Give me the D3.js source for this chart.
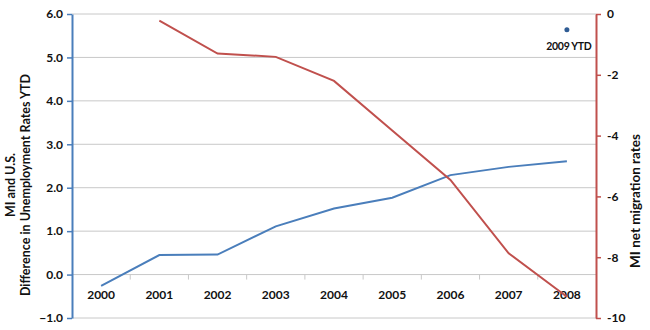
<!DOCTYPE html>
<html><head><meta charset="utf-8">
<script src="https://cdn.jsdelivr.net/npm/d3@7"></script>
<style>body{margin:0;background:#fff}svg{display:block}</style>
</head><body>
<svg id="c" width="650" height="330"></svg>
<script>
const years = ["2000","2001","2002","2003","2004","2005","2006","2007","2008"];
const unempDiff = [-0.26, 0.45, 0.46, 1.11, 1.52, 1.77, 2.29, 2.48, 2.61];
const migrationYears = ["2001","2002","2003","2004","2005","2006","2007","2008"];
const migration = [-0.22, -1.30, -1.41, -2.20, -3.83, -5.46, -7.87, -9.30];
const ytdYear = "2008";
const ytdValue = 5.64;
const ytdLabel = "2009 YTD";
const leftTicks = [6,5,4,3,2,1,0,-1];
const rightTicks = [0,-2,-4,-6,-8,-10];

const svg = d3.select("#c");
const L = 72, R = 596, T = 14, B = 318;
const font = "Lato, 'Open Sans', sans-serif";
const blue = "#4a7ebb", red = "#c0504d", grid = "#c8c8c8";

const x = d3.scaleBand().domain(years).range([L, R]);
const yL = d3.scaleLinear().domain([-1, 6]).range([B, T]);
const yR = d3.scaleLinear().domain([-10, 0]).range([B, T]);
const cx = d => x(d) + x.bandwidth() / 2;

// gridlines
svg.append("g").selectAll("line").data(leftTicks).join("line")
  .attr("x1", L).attr("x2", R).attr("y1", d => yL(d)).attr("y2", d => yL(d))
  .attr("stroke", grid).attr("stroke-width", 1);

// category axis at 0
const xa = svg.append("g").attr("transform", `translate(0,${yL(0)})`)
  .call(d3.axisBottom(x).tickSize(0).tickPadding(16));
xa.select(".domain").remove();
xa.selectAll("text").attr("font-family", font).attr("font-weight", "bold")
  .attr("font-size", 12).attr("fill", "#111");
svg.append("g").selectAll("line").data(years.slice(1)).join("line")
  .attr("x1", d => x(d)).attr("x2", d => x(d))
  .attr("y1", yL(0)).attr("y2", yL(0) + 5).attr("stroke", grid);

// left axis
const la = svg.append("g").attr("transform", `translate(${L},0)`)
  .call(d3.axisLeft(yL).tickValues(leftTicks).tickFormat(d3.format(".1f")).tickSize(5).tickPadding(4).tickSizeOuter(0));
la.select(".domain").attr("stroke", blue).attr("stroke-width", 2);
la.selectAll(".tick line").attr("stroke", blue).attr("stroke-width", 1.5);
la.selectAll("text").attr("font-family", font).attr("font-weight", "bold")
  .attr("font-size", 12).attr("fill", "#111");

// right axis
const ra = svg.append("g").attr("transform", `translate(${R},0)`)
  .call(d3.axisRight(yR).tickValues(rightTicks).tickSize(5).tickPadding(6).tickSizeOuter(0));
ra.select(".domain").attr("stroke", red).attr("stroke-width", 2);
ra.selectAll(".tick line").attr("stroke", red).attr("stroke-width", 1.5);
ra.selectAll("text").attr("font-family", font).attr("font-weight", "bold")
  .attr("font-size", 12).attr("fill", "#111").text(d => d === 0 ? "0" : "-" + Math.abs(d));

// lines
svg.append("path").datum(years.map((y, i) => [y, unempDiff[i]]))
  .attr("fill", "none").attr("stroke", blue).attr("stroke-width", 2)
  .attr("d", d3.line().x(d => cx(d[0])).y(d => yL(d[1])));
svg.append("path").datum(migrationYears.map((y, i) => [y, migration[i]]))
  .attr("fill", "none").attr("stroke", red).attr("stroke-width", 2)
  .attr("d", d3.line().x(d => cx(d[0])).y(d => yR(d[1])));

// YTD point
svg.append("circle").attr("cx", cx(ytdYear)).attr("cy", yL(ytdValue)).attr("r", 2.5).attr("fill", "#2f5c94");
svg.append("text").attr("x", cx(ytdYear) + 2).attr("y", yL(ytdValue) + 20)
  .attr("text-anchor", "middle").attr("font-family", font).attr("font-weight", "bold")
  .attr("font-size", 10.5).attr("letter-spacing", -0.3).attr("fill", "#111").text(ytdLabel);

// axis titles
const lt = svg.append("text").attr("transform", "translate(15,185) rotate(-90)")
  .attr("text-anchor", "middle").attr("font-family", font).attr("font-weight", "bold")
  .attr("font-size", 12.5).attr("fill", "#111");
lt.append("tspan").attr("x", 0).attr("dy", 0).text("MI and U.S.");
lt.append("tspan").attr("x", 0).attr("dy", 15).text("Difference in Unemployment Rates  YTD");

svg.append("text").attr("transform", "translate(640,201) rotate(-90)")
  .attr("text-anchor", "middle").attr("font-family", font).attr("font-weight", "bold")
  .attr("font-size", 13.5).attr("fill", "#111").text("MI net migration rates");
</script>
</body></html>
